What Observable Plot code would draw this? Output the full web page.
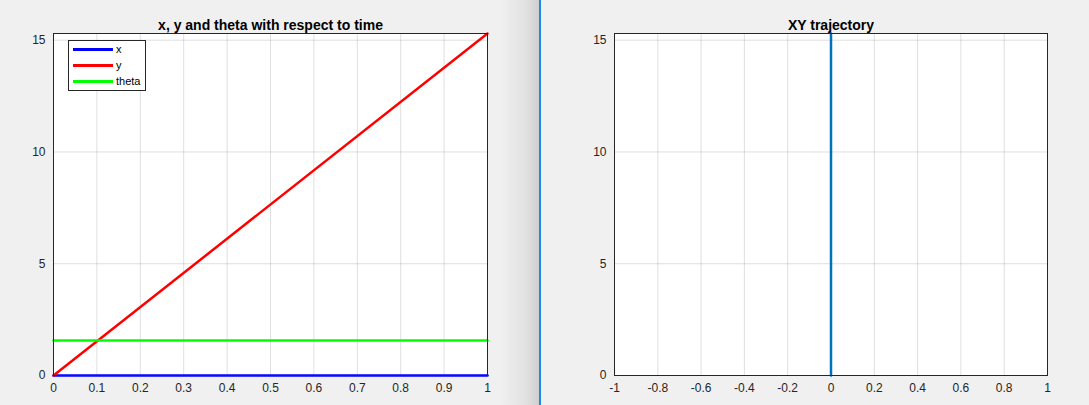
<!DOCTYPE html>
<html><head><meta charset="utf-8">
<script src="https://cdn.jsdelivr.net/npm/d3@7"></script>
<script src="https://cdn.jsdelivr.net/npm/@observablehq/plot@0.6"></script>
<style>
body{margin:0;width:1089px;height:405px;background:#f0f0f0;position:relative;overflow:hidden;font-family:"Liberation Sans",Arial,sans-serif}
#left{position:absolute;left:0;top:0;width:540px;height:405px;background:linear-gradient(to right,#f0f0f0 0,#f0f0f0 500px,#e2e2e2 525px,#cfcfcf 539px)}
#div{position:absolute;left:539px;top:0;width:2px;height:405px;background:#1e88e5}
#right{position:absolute;left:541px;top:0;width:548px;height:405px}
#legend{position:absolute;left:68px;top:40px;width:78px;height:51px;background:#fff;border:1px solid #262626;box-sizing:border-box;font-size:11px;color:#000}
#legend div{height:16px;display:flex;align-items:center;padding-left:4px}
#legend span{display:inline-block;width:40px;height:3px;margin-right:3px}
</style></head><body>
<div id="left"></div><div id="div"></div><div id="right"></div>
<div id="legend"></div>
<script>
const time = [0, 1];
const xVals = [0, 0];
const yVals = [0, 15.3];
const thetaVals = [1.5708, 1.5708];
const seriesNames = ["x", "y", "theta"];
const seriesColors = ["#0000ff", "#ff0000", "#00ff00"];
const leftXTicks = [0, 0.1, 0.2, 0.3, 0.4, 0.5, 0.6, 0.7, 0.8, 0.9, 1];
const rightXTicks = [-1, -0.8, -0.6, -0.4, -0.2, 0, 0.2, 0.4, 0.6, 0.8, 1];
const yTicks = [0, 5, 10, 15];

const series = [xVals, yVals, thetaVals];
const rows = series.flatMap((vals, i) => vals.map((v, j) => ({t: time[j], v, s: seriesNames[i]})));
const traj = xVals.map((x, i) => ({x, y: yVals[i]}));

const common = {
  height: 405, marginTop: 33, marginBottom: 30,
  style: {fontFamily: "Liberation Sans, Arial, sans-serif", fontSize: "12px", color: "#262626", background: "transparent", overflow: "visible"},
  y: {domain: [0, 15.3], ticks: yTicks, tickSize: 0, tickPadding: 8, label: null}
};
const box = [Plot.frame({fill: "white"})];

const left = Plot.plot({
  ...common, width: 540, marginLeft: 53, marginRight: 53,
  x: {domain: [0, 1], ticks: leftXTicks, tickSize: 0, tickPadding: 8, label: null, tickFormat: d => String(d)},
  color: {domain: seriesNames, range: seriesColors},
  marks: [
    ...box,
    Plot.gridX(leftXTicks, {stroke: "#262626", strokeOpacity: 0.15}),
    Plot.gridY(yTicks, {stroke: "#262626", strokeOpacity: 0.15}),
    Plot.line(rows, {x: "t", y: "v", z: "s", stroke: "s", strokeWidth: 2.5}),
    Plot.frame({stroke: "#262626"}),
    Plot.text(["x, y and theta with respect to time"], {frameAnchor: "top", dy: -13, fontWeight: "bold", fontSize: 14, fill: "#000"})
  ]
});
document.getElementById("left").append(left);

const right = Plot.plot({
  ...common, width: 548, marginLeft: 73, marginRight: 42,
  x: {domain: [-1, 1], ticks: rightXTicks, tickSize: 0, tickPadding: 8, label: null, tickFormat: d => String(d)},
  marks: [
    ...box,
    Plot.gridX(rightXTicks, {stroke: "#262626", strokeOpacity: 0.15}),
    Plot.gridY(yTicks, {stroke: "#262626", strokeOpacity: 0.15}),
    Plot.line(traj, {x: "x", y: "y", stroke: "#0072bd", strokeWidth: 2.5}),
    Plot.frame({stroke: "#262626"}),
    Plot.text(["XY trajectory"], {frameAnchor: "top", dy: -13, fontWeight: "bold", fontSize: 14, fill: "#000"})
  ]
});
document.getElementById("right").append(right);

const lg = document.getElementById("legend");
seriesNames.forEach((n, i) => {
  const d = document.createElement("div");
  d.innerHTML = `<span style="background:${seriesColors[i]}"></span>${n}`;
  lg.append(d);
});
</script></body></html>
